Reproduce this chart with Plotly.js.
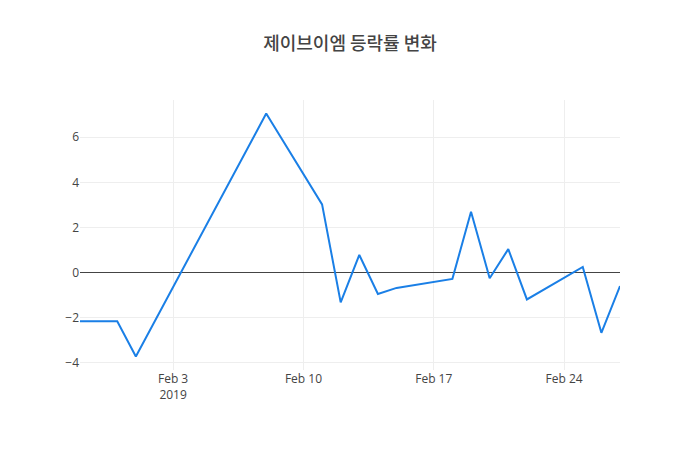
<!DOCTYPE html>
<html>
<head>
<meta charset="utf-8">
<script src="https://cdn.plot.ly/plotly-3.0.1.min.js"></script>
<style>
  body { margin: 0; }
  #chart { width: 700px; height: 450px; }
</style>
</head>
<body>
<div id="chart"></div>
<script>
// trading days (Seollal holiday Feb 4-6 has no rows)
const dates = [
    '2019-01-29', '2019-01-31', '2019-02-01', '2019-02-08',
    '2019-02-11', '2019-02-12', '2019-02-13', '2019-02-14', '2019-02-15',
    '2019-02-18', '2019-02-19', '2019-02-20', '2019-02-21', '2019-02-22',
    '2019-02-25', '2019-02-26', '2019-02-27'
];
// daily change rate, %
const changeRate = [
    -2.16, -2.16, -3.72, 7.05,
    3.02, -1.32, 0.78, -0.95, -0.68,
    -0.28, 2.70, -0.25, 1.04, -1.19,
    0.25, -2.67, -0.60
];

const trace = {
    x: dates,
    y: changeRate,
    type: 'scatter',
    mode: 'lines',
    line: {color: '#1a7fe6', width: 2}
};

const layout = {
    width: 700,
    height: 450,
    title: {
        text: '제이브이엠 등락률 변화',
        font: {family: '"Noto Sans CJK KR", "Open Sans", sans-serif', size: 18, color: '#444', weight: 500}
    },
    font: {family: '"Open Sans", verdana, arial, sans-serif', color: '#444'},
    xaxis: {gridcolor: '#eee'},
    yaxis: {gridcolor: '#eee', zeroline: true, zerolinecolor: '#444', zerolinewidth: 1},
    paper_bgcolor: '#fff',
    plot_bgcolor: '#fff',
    showlegend: false
};

Plotly.newPlot('chart', [trace], layout, {displayModeBar: false});
</script>
</body>
</html>
